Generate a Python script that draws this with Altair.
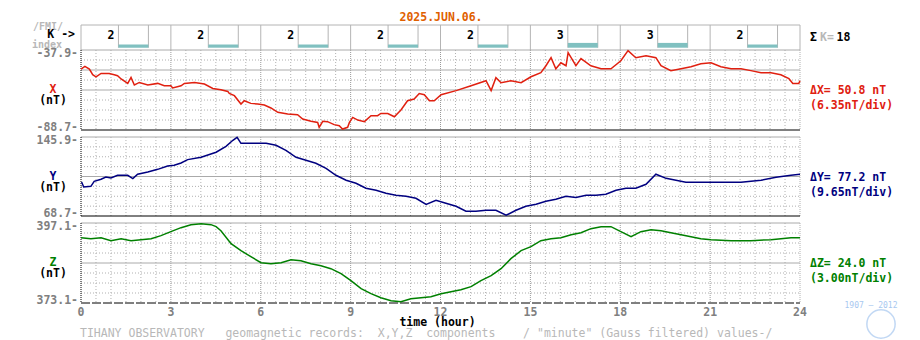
import altair as alt
import pandas as pd

# ---------------- data ----------------
DATE_TITLE = "2025.JUN.06."
K_START = [0, 3, 6, 9, 12, 15, 18, 21]
K_INDEX = [2, 2, 2, 2, 2, 3, 3, 2]
HOUR_TICKS = [0, 3, 6, 9, 12, 15, 18, 21, 24]

X_HOURS = [0.00, 0.13, 0.28, 0.39, 0.50, 0.67, 0.94, 1.11, 1.22, 1.34,
           1.56, 1.67, 1.78, 1.95, 2.23, 2.56, 2.78, 3.00, 3.06, 3.34,
           3.45, 3.79, 4.12, 4.40, 4.67, 4.90, 4.95, 5.12, 5.34, 5.45,
           5.67, 5.90, 6.12, 6.34, 6.57, 6.90, 7.23, 7.40, 7.68, 7.90,
           7.95, 8.07, 8.23, 8.45, 8.62, 8.73, 8.90, 8.96, 9.07, 9.24,
           9.46, 9.68, 9.90, 10.01, 10.24, 10.46, 10.68, 10.90, 11.12, 11.29,
           11.46, 11.63, 11.79, 12.02, 12.52, 13.02, 13.52, 13.69, 13.85, 14.02,
           14.35, 14.69, 15.02, 15.35, 15.52, 15.69, 15.85, 16.02, 16.19, 16.26,
           16.42, 16.52, 16.69, 17.02, 17.36, 17.69, 18.02, 18.26, 18.52, 18.86,
           19.19, 19.36, 19.69, 20.03, 20.36, 20.69, 21.03, 21.36, 21.70, 22.03,
           22.36, 22.70, 23.03, 23.36, 23.63, 23.76, 23.96, 24.00]
X_VALUES = [-50.0, -48.3, -50.0, -53.6, -54.9, -52.8, -52.8, -53.6, -54.2, -56.3,
            -59.1, -55.3, -60.1, -58.5, -60.1, -59.1, -60.6, -60.6, -62.0, -60.6,
            -59.1, -58.5, -59.5, -62.3, -63.1, -64.2, -65.5, -66.9, -72.2, -70.1,
            -71.8, -72.2, -72.8, -74.7, -77.5, -78.5, -79.0, -81.7, -83.2, -83.9,
            -87.0, -83.2, -83.4, -85.3, -86.0, -88.1, -87.0, -83.9, -80.7, -82.4,
            -83.4, -79.6, -79.6, -78.2, -78.2, -80.3, -76.0, -70.1, -69.0, -65.5,
            -66.3, -70.1, -70.1, -66.3, -63.7, -60.6, -57.4, -63.7, -55.5, -58.7,
            -57.4, -58.7, -54.9, -52.3, -47.9, -42.8, -49.8, -46.0, -47.9, -39.6,
            -44.7, -47.9, -43.4, -47.9, -49.8, -49.8, -44.7, -38.3, -42.8, -41.5,
            -42.8, -47.9, -51.0, -49.8, -48.5, -46.6, -46.0, -48.5, -49.8, -49.8,
            -51.0, -52.3, -52.3, -53.6, -56.1, -59.1, -59.1, -57.4]

Y_HOURS = [0.02, 0.09, 0.33, 0.44, 0.67, 0.83, 1.00, 1.22, 1.56, 1.73,
           1.89, 2.23, 2.56, 2.89, 3.11, 3.34, 3.56, 4.01, 4.51, 4.84,
           5.07, 5.21, 5.34, 5.67, 6.18, 6.51, 6.84, 7.18, 7.51, 7.84,
           8.18, 8.51, 8.85, 9.18, 9.51, 9.85, 10.18, 10.51, 10.85, 11.18,
           11.52, 11.85, 12.18, 12.52, 12.85, 13.18, 13.52, 13.85, 14.19, 14.52,
           14.85, 15.19, 15.52, 15.85, 16.19, 16.52, 16.86, 17.19, 17.52, 17.86,
           18.19, 18.52, 18.86, 19.19, 19.53, 19.86, 20.19, 20.69, 21.36, 22.03,
           22.70, 23.20, 23.70, 24.00]
Y_VALUES = [101.9, 97.0, 97.7, 102.6, 104.6, 106.8, 105.8, 108.5, 108.5, 105.3,
            109.5, 111.7, 114.3, 117.6, 118.3, 120.5, 123.8, 126.1, 131.0, 136.8,
            142.7, 145.6, 139.7, 139.7, 139.7, 137.8, 132.9, 126.1, 123.1, 120.2,
            115.3, 108.5, 103.6, 100.7, 95.8, 93.8, 90.9, 88.9, 87.9, 86.0,
            80.1, 84.1, 81.1, 78.2, 73.3, 73.3, 74.3, 74.3, 69.4, 74.3,
            78.2, 80.1, 83.1, 85.0, 87.9, 86.9, 88.9, 88.9, 89.9, 93.8,
            95.8, 95.8, 99.7, 109.5, 105.5, 103.6, 101.6, 101.6, 101.6, 101.6,
            103.6, 106.5, 108.5, 109.5]

Z_HOURS = [0.00, 0.33, 0.67, 1.00, 1.34, 1.67, 2.00, 2.34, 2.67, 3.00,
           3.34, 3.67, 4.01, 4.34, 4.51, 4.67, 5.01, 5.34, 5.67, 6.01,
           6.34, 6.68, 7.01, 7.34, 7.68, 8.01, 8.34, 8.68, 9.01, 9.35,
           9.68, 10.01, 10.35, 10.68, 11.01, 11.35, 11.68, 12.02, 12.35, 12.68,
           13.02, 13.35, 13.69, 14.02, 14.35, 14.69, 15.02, 15.35, 15.69, 16.02,
           16.36, 16.69, 17.02, 17.36, 17.69, 18.02, 18.36, 18.69, 19.03, 19.36,
           19.69, 20.03, 20.36, 20.69, 21.03, 21.70, 22.36, 23.03, 23.70, 24.00]
Z_VALUES = [392.7, 392.4, 392.7, 391.8, 392.4, 391.8, 392.1, 392.4, 393.3, 394.5,
            395.7, 396.6, 396.9, 396.6, 396.0, 394.8, 390.9, 388.8, 387.0, 385.2,
            384.9, 385.2, 386.1, 385.8, 384.9, 384.3, 383.4, 381.9, 379.8, 377.4,
            375.9, 374.7, 373.8, 373.5, 374.4, 374.7, 375.0, 375.9, 376.5, 377.1,
            378.0, 379.8, 381.3, 383.4, 386.4, 388.8, 390.0, 391.8, 392.4, 392.7,
            393.6, 394.2, 395.4, 396.0, 396.0, 394.5, 393.0, 394.5, 395.1, 394.8,
            394.2, 393.6, 393.0, 392.4, 392.1, 391.8, 391.8, 392.1, 392.7, 392.7]

X_TOP, X_BOTTOM = -37.9, -88.7
Y_TOP, Y_BOTTOM = 145.9, 68.7
Z_TOP, Z_BOTTOM = 397.1, 373.1

FOOTER = ('TIHANY OBSERVATORY   geomagnetic records:  X,Y,Z  components'
          '    / "minute" (Gauss filtered) values-/')

# ---------------- style ----------------
W = 719
KH = 18          # layout height of the K row (its box is drawn 25 px tall)
KBOX = 25
SPACING = 7
FONT = "DejaVu Sans Mono"
FS = 11.5
RED = "#e02010"
NAVY = "#000080"
GREEN = "#008000"
ORANGE = "#e06000"
TXT_GRAY = "#808080"
LIGHT_TXT = "#b8b8b8"
DOT_GRAY = "#b0b0b0"
MID_GRAY = "#9a9a9a"
SOLID_GRAY = "#aaaaaa"
BOX_GRAY = "#b4b4b4"
TEAL = "#80c0c0"
LOGO = "#a8c8f0"

XS = alt.Scale(domain=[0, 24], nice=False, zero=False)
HALF_HOURS = [h / 2 for h in range(1, 48) if (h / 2) % 3 != 0]
THREE_HOURS = [3, 6, 9, 12, 15, 18, 21]


def nbsp(s):
    return s.replace(" ", "\u00a0")


def rule_kw(color, dash, width=1):
    kw = dict(color=color, strokeWidth=width)
    if dash:
        kw["strokeDash"] = dash
    return kw


def vrules(hours, color, dash, y0, y1):
    df = pd.DataFrame({"h": hours})
    return alt.Chart(df).mark_rule(**rule_kw(color, dash)).encode(
        x=alt.X("h:Q", scale=XS, axis=None), y=alt.value(y0), y2=alt.value(y1))


def hrules(levels, ys, field, color, dash):
    df = pd.DataFrame({field: levels})
    return alt.Chart(df).mark_rule(**rule_kw(color, dash)).encode(
        y=alt.Y(f"{field}:Q", scale=ys, axis=None), x=alt.value(0), x2=alt.value(W))


def label(text, x, y, color, align="left", bold=True, size=FS):
    return alt.Chart(pd.DataFrame({"t": [nbsp(text)]})).mark_text(
        font=FONT, fontSize=size, fontWeight="bold" if bold else "normal",
        color=color, align=align, baseline="middle").encode(
        x=alt.value(x), y=alt.value(y), text="t:N")


def panel(field, name, hours, values, top, bottom, solid_divs, color, height,
          bottom_dash=None, extra=()):
    ys = alt.Scale(domain=[bottom, top], nice=False, zero=False)
    step = (top - bottom) / 8
    levels = [top - i * step for i in range(9)]
    solid = [levels[i] for i in solid_divs]
    dotted = [levels[i] for i in range(1, 8) if i not in solid_divs]

    line_df = pd.DataFrame({"h": hours, field: values})
    line = alt.Chart(line_df).mark_line(color=color, strokeWidth=1.5).encode(
        x=alt.X("h:Q", scale=XS, axis=None),
        y=alt.Y(f"{field}:Q", scale=ys, axis=None))

    def vlab(v, dy):
        df = pd.DataFrame({field: [v], "t": [f"{v:.1f}-"]})
        return alt.Chart(df).mark_text(
            font=FONT, fontSize=FS, fontWeight="bold", color=TXT_GRAY,
            align="right", baseline="middle", dy=dy).encode(
            x=alt.value(-3), y=alt.Y(f"{field}:Q", scale=ys, axis=None), text="t:N")

    span = top - bottom
    layers = [
        hrules(dotted, ys, field, DOT_GRAY, [1, 2]),
        vrules(HALF_HOURS, DOT_GRAY, [1, 2], 0, height),
        vrules(THREE_HOURS, MID_GRAY, [1, 1], 0, height),
        vrules([24], DOT_GRAY, [1, 1], 0, height),
        hrules(solid, ys, field, SOLID_GRAY, None),
        hrules([levels[8]], ys, field, "black", bottom_dash),
        vrules([0], "black", [1, 1], 0, height),
        line,
        vlab(top, 3.5),
        vlab(bottom, -2.5),
        label(name, -28, 40, color, align="center"),
        label("(nT)", -28, 51, "black", align="center"),
        label(f"\u0394{name}= {span:.1f} nT", 729, 41, color),
        label(f"({span / 8:.2f}nT/div)", 729, 55.5, color),
    ]
    layers.extend(extra)
    return alt.layer(*layers).properties(width=W, height=height)


# ---------------- K-index row ----------------
# bar scale: K=0 sits 2.3 px above the row's lower edge, 1.6 px per K unit
ks = alt.Scale(domain=[2.94, 14.19], nice=False, zero=False)
kdf = pd.DataFrame({"start": K_START, "k": K_INDEX})
kdf["label_h"] = kdf["start"] + 1.0
kdf["b0"] = kdf["start"] + 1.25
kdf["b1"] = kdf["start"] + 2.25
kdf["zero"] = 0
one = pd.DataFrame({"a": [0]})

k_layers = [
    alt.Chart(one).mark_rect(color="white").encode(
        x=alt.value(-72), x2=alt.value(-71), y=alt.value(-16), y2=alt.value(-15)),
    alt.Chart(one).mark_rule(color=BOX_GRAY).encode(
        x=alt.value(0), x2=alt.value(W), y=alt.value(0)),
    vrules(HOUR_TICKS, BOX_GRAY, None, 0, KBOX),
    alt.Chart(kdf).mark_rule(color=BOX_GRAY).encode(
        x=alt.X("b0:Q", scale=XS, axis=None), y=alt.value(0), y2=alt.value(22.7)),
    alt.Chart(kdf).mark_rule(color=BOX_GRAY).encode(
        x=alt.X("b1:Q", scale=XS, axis=None), y=alt.value(0), y2=alt.value(22.7)),
    alt.Chart(kdf).mark_rect(color=TEAL).encode(
        x=alt.X("b0:Q", scale=XS, axis=None), x2="b1:Q",
        y=alt.Y("k:Q", scale=ks, axis=None), y2="zero:Q"),
    alt.Chart(kdf).mark_text(font=FONT, fontSize=FS, fontWeight="bold",
                             color="black", baseline="middle").encode(
        x=alt.X("label_h:Q", scale=XS, axis=None), y=alt.value(11), text="k:Q"),
    label(DATE_TITLE, 360, -7.5, ORANGE, align="center"),
    label("/FMI/", -48, 1.5, LIGHT_TXT, size=10),
    label("K ->", -6, 10.3, "black", align="right"),
    label("index", -49, 19.8, LIGHT_TXT, size=10),
    label("\u03a3", 729, 13, "black"),
    label("K=", 739, 13, LIGHT_TXT),
    label(str(sum(K_INDEX)), 755.5, 13, "black"),
]
k_panel = alt.layer(*k_layers).properties(width=W, height=KH)

# ---------------- X, Y, Z panels ----------------
x_panel = panel("xnt", "X", X_HOURS, X_VALUES, X_TOP, X_BOTTOM, [0, 2, 4], RED, 80)
y_panel = panel("ynt", "Y", Y_HOURS, Y_VALUES, Y_TOP, Y_BOTTOM, [0, 4], NAVY, 79)

hour_df = pd.DataFrame({"h": HOUR_TICKS, "t": [str(h) for h in HOUR_TICKS]})
z_extra = [
    alt.Chart(hour_df).mark_text(font=FONT, fontSize=FS, fontWeight="bold",
                                 color=TXT_GRAY, baseline="middle").encode(
        x=alt.X("h:Q", scale=XS, axis=None), y=alt.value(90), text="t:N"),
    label("time (hour)", 356.5, 100.3, "black", align="center"),
    label(FOOTER, -1, 111, LIGHT_TXT, bold=False),
    label("1907 \u2014 2012", 790, 83, LOGO, align="center", bold=False, size=8),
    alt.Chart(one).mark_point(shape="circle", filled=False, color=LOGO,
                              strokeWidth=1.5, size=800).encode(
        x=alt.value(800), y=alt.value(101)),
]
z_panel = panel("znt", "Z", Z_HOURS, Z_VALUES, Z_TOP, Z_BOTTOM, [0, 4], GREEN, 80,
                bottom_dash=[9, 2], extra=z_extra)

chart = alt.vconcat(k_panel, x_panel, y_panel, z_panel, spacing=SPACING,
                    bounds="flush").resolve_scale(
    x="independent", y="independent").properties(
    padding={"left": 0, "top": 0, "right": 0, "bottom": 0}
).configure_view(stroke="transparent")

chart.save("out.html", embed_options={"renderer": "svg", "actions": False})
